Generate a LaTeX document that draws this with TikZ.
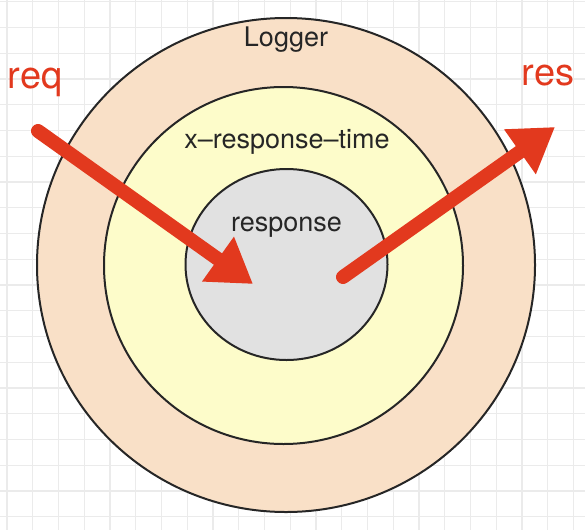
\documentclass[tikz,border=0pt]{standalone}
\usepackage{fontspec}
\setmainfont{TeX Gyre Heros}
\usetikzlibrary{arrows.meta,shapes.geometric}

\definecolor{loggerfill}{HTML}{F9E0C7}
\definecolor{timefill}{HTML}{FDFCCA}
\definecolor{respfill}{HTML}{E1E1E1}
\definecolor{flowred}{HTML}{E2391E}
\definecolor{gridgray}{HTML}{EBEBEB}

\begin{document}
\begin{tikzpicture}[
            x=1pt, y=-1pt,
            ring/.style={
                ellipse,
                draw=black!85,
                line width=2pt,
                inner sep=0pt
            },
            ringlabel/.style={
                anchor=base,
                inner sep=0pt,
                text=black!85,
                font=\fontsize{27}{30}\selectfont
            },
            flowlabel/.style={
                anchor=base,
                inner sep=0pt,
                text=flowred,
                font=\fontsize{38}{42}\selectfont
            },
            flow/.style={
                draw=flowred,
                line width=14pt,
                line cap=round,
                -{Triangle[length=43pt,width=52pt]}
            },
            gridline/.style={
                draw=gridgray,
                line width=1.4pt
            }
        ]

            \useasboundingbox[fill=white] (0,0) rectangle (585,530);

            % --- Background grid ---
            \foreach \k in {0,...,22} {
                \draw[gridline] (7+25.75*\k,0) -- (7+25.75*\k,530);
            }
            \foreach \k in {-1,...,20} {
                \draw[gridline] (0,27.5+25.75*\k) -- (585,27.5+25.75*\k);
            }

            % --- Nested layers ---
            \node[ring, fill=loggerfill, minimum width=498pt, minimum height=494pt] (logger) at (286,265) {};
            \node[ring, fill=timefill, minimum width=359pt, minimum height=357pt] (xrt) at (283.5,265.5) {};
            \node[ring, fill=respfill, minimum width=202pt, minimum height=191pt] (resp) at (286.5,264.5) {};

            % --- Layer names ---
            \node[ringlabel] (loggerl) at (286,46.5) {Logger};
            \node[ringlabel] (xrtl) at (287,148) {x\textendash response\textendash time};
            \node[ringlabel] (respl) at (286.5,231.5) {response};

            % --- Request and response ---
            \node[flowlabel] (req) at (35,88) {req};
            \node[flowlabel] (res) at (548,85) {res};

            \coordinate (reqin) at (38,131);
            \coordinate (reqend) at (253,284);
            \coordinate (resout) at (343,277);
            \coordinate (resend) at (555,127);

            \draw[flow] (reqin) -- (reqend);
            \draw[flow] (resout) -- (resend);
        \end{tikzpicture}
\end{document}
